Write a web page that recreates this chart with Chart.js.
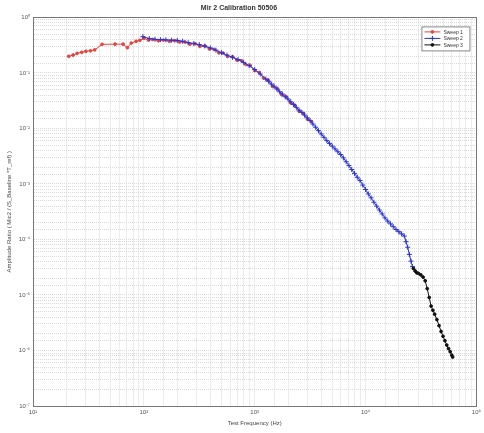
<!DOCTYPE html>
<html>
<head>
<meta charset="utf-8">
<script src="https://cdn.jsdelivr.net/npm/chart.js@4.4.0/dist/chart.umd.min.js"></script>
<style>
  html, body { margin: 0; padding: 0; background: #fff; }
</style>
</head>
<body>
<canvas id="chart" width="484" height="433"></canvas>
<script>
// sweep 1 - low band
const sweep1Freq = [21, 23, 25, 27.5, 30, 33, 36, 42, 55, 65, 71, 77, 85, 92, 100, 110, 120, 135, 150, 170, 190, 210, 235, 260, 290, 320, 355, 390, 430, 475, 520, 570, 630, 690, 760, 830, 910, 1000, 1100, 1200, 1320, 1450, 1600, 1750, 1920, 2100, 2300, 2520, 2760, 3000, 3250];
const sweep1Amp  = [0.199, 0.21, 0.225, 0.235, 0.245, 0.25, 0.26, 0.327, 0.33, 0.33, 0.285, 0.345, 0.37, 0.386, 0.42, 0.39, 0.40, 0.38, 0.39, 0.37, 0.38, 0.36, 0.36, 0.33, 0.335, 0.30, 0.305, 0.27, 0.265, 0.23, 0.228, 0.198, 0.195, 0.17, 0.166, 0.142, 0.136, 0.11, 0.102, 0.081, 0.074, 0.057, 0.052, 0.0405, 0.0375, 0.029, 0.0262, 0.0203, 0.0186, 0.0146, 0.0133];

// sweep 2 - mid band
const sweep2Freq = [98, 112, 126, 141, 158, 178, 200, 224, 251, 282, 316, 355, 398, 447, 501, 562, 631, 708, 794, 891, 1000, 1122, 1259, 1334, 1413, 1496, 1585, 1679, 1778, 1884, 1995, 2113, 2239, 2371, 2512, 2661, 2818, 2985, 3162, 3350, 3548, 3758, 3981, 4217, 4467, 4732, 5012, 5309, 5623, 5957, 6310, 6683, 7079, 7499, 7943, 8414, 8913, 9441, 10000, 10593, 11220, 11885, 12589, 13335, 14125, 14962, 15849, 16788, 17783, 18836, 19953, 21135, 22387, 23174, 23988, 24831, 25704, 26485];
const sweep2Amp  = [0.45, 0.417, 0.403, 0.398, 0.394, 0.389, 0.385, 0.372, 0.351, 0.339, 0.324, 0.305, 0.282, 0.257, 0.232, 0.209, 0.191, 0.174, 0.155, 0.135, 0.115, 0.0955, 0.0776, 0.0708, 0.0631, 0.0575, 0.0513, 0.0457, 0.0417, 0.0372, 0.0339, 0.0302, 0.0269, 0.024, 0.0214, 0.0195, 0.0174, 0.0155, 0.0138, 0.012, 0.0105, 0.00912, 0.00794, 0.00692, 0.00603, 0.00537, 0.00479, 0.00427, 0.0038, 0.00339, 0.00295, 0.00251, 0.00214, 0.00182, 0.00155, 0.00132, 0.00115, 0.000955, 0.000794, 0.000661, 0.000562, 0.000468, 0.000398, 0.000339, 0.000288, 0.000245, 0.000214, 0.000191, 0.00017, 0.000151, 0.000138, 0.000126, 0.000115, 0.0000912, 0.0000724, 0.0000537, 0.0000407, 0.0000324];

// sweep 3 - high band
const sweep3Freq = [27000, 28000, 29000, 30000, 31500, 33000, 34500, 36000, 37500, 39000, 40500, 42000, 44000, 46000, 48000, 50000, 52000, 54000, 56000, 58000, 60000, 61000];
const sweep3Amp  = [3.0e-5, 2.7e-5, 2.5e-5, 2.45e-5, 2.3e-5, 2.1e-5, 1.8e-5, 1.3e-5, 9e-6, 6.3e-6, 5.3e-6, 4.5e-6, 3.6e-6, 2.8e-6, 2.2e-6, 1.8e-6, 1.5e-6, 1.25e-6, 1.08e-6, 9.5e-7, 8.2e-7, 7.6e-7];

const seriesNames = ['Sweep 1', 'Sweep 2', 'Sweep 3'];
const xRange = [10, 100000];
const yRange = [1e-7, 1];

const SUP = { '0': '\u2070', '1': '\u00b9', '2': '\u00b2', '3': '\u00b3', '4': '\u2074', '5': '\u2075', '6': '\u2076', '7': '\u2077', '8': '\u2078', '9': '\u2079', '-': '\u207b' };
function decadeLabel(v) {
  const e = Math.log10(v);
  if (Math.abs(e - Math.round(e)) > 1e-6) return '';
  return '10' + String(Math.round(e)).split('').map(c => SUP[c]).join('');
}
const zip = (xs, ys) => xs.map((x, i) => ({ x, y: ys[i] }));

// box around the plot area
const frame = {
  id: 'frame',
  afterDraw(chart) {
    const { ctx, chartArea: a } = chart;
    ctx.save();
    ctx.strokeStyle = '#777';
    ctx.lineWidth = 1;
    ctx.strokeRect(Math.round(a.left) + 0.5, Math.round(a.top) + 0.5, Math.round(a.width), Math.round(a.height));
    ctx.restore();
  }
};

// legend drawn inside the top right corner
const insetLegend = {
  id: 'insetLegend',
  afterDraw(chart) {
    const { ctx, chartArea: a } = chart;
    const x0 = a.right - 55, y0 = a.top + 9, w = 48, h = 24;
    ctx.save();
    ctx.fillStyle = '#fff';
    ctx.fillRect(x0, y0, w, h);
    ctx.strokeStyle = '#888';
    ctx.lineWidth = 1;
    ctx.strokeRect(x0 + 0.5, y0 + 0.5, w, h);
    ctx.font = '5px "Liberation Sans", Arial, sans-serif';
    ctx.textBaseline = 'middle';
    chart.data.datasets.forEach((ds, i) => {
      const y = y0 + 5.5 + i * 6.5;
      ctx.strokeStyle = ds.borderColor;
      ctx.lineWidth = 1;
      ctx.beginPath();
      ctx.moveTo(x0 + 3, y);
      ctx.lineTo(x0 + 19, y);
      ctx.stroke();
      ctx.fillStyle = ds.pointBackgroundColor;
      Chart.helpers.drawPoint(ctx, { pointStyle: ds.pointStyle, radius: ds.pointRadius, rotation: 0, borderWidth: 1 }, x0 + 11, y);
      ctx.fillStyle = '#333';
      ctx.fillText(ds.label, x0 + 22, y + 0.5);
    });
    ctx.restore();
  }
};

const gridStyle = { color: '#d9d9d9', lineWidth: 1, drawTicks: false };
const tickFont = { family: '"Liberation Sans", Arial, sans-serif', size: 6 };

new Chart(document.getElementById('chart'), {
  type: 'line',
  data: {
    datasets: [
      // later sweeps are plotted over earlier ones
      { label: seriesNames[0], order: 3, data: zip(sweep1Freq, sweep1Amp), borderColor: '#e2463f', pointBackgroundColor: '#e2463f', pointBorderColor: '#e2463f', pointStyle: 'circle', pointRadius: 1.4, borderWidth: 1 },
      { label: seriesNames[1], order: 2, data: zip(sweep2Freq, sweep2Amp), borderColor: '#2a34d6', pointBackgroundColor: '#2a34d6', pointBorderColor: '#2a34d6', pointStyle: 'cross', pointRadius: 2.5, pointBorderWidth: 1, borderWidth: 1 },
      { label: seriesNames[2], order: 1, data: zip(sweep3Freq, sweep3Amp), borderColor: '#111', pointBackgroundColor: '#111', pointBorderColor: '#111', pointStyle: 'circle', pointRadius: 1.4, borderWidth: 1 }
    ]
  },
  options: {
    responsive: false,
    animation: false,
    layout: { padding: { left: 0, right: 6, top: 0, bottom: 0 } },
    plugins: {
      legend: { display: false },
      tooltip: { enabled: false },
      title: {
        display: true,
        text: 'Mir 2 Calibration 50506',
        color: '#333',
        font: { family: '"Liberation Sans", Arial, sans-serif', size: 7, weight: 'bold' },
        padding: { top: 4, bottom: 5 }
      }
    },
    scales: {
      x: {
        type: 'logarithmic',
        min: xRange[0], max: xRange[1],
        grid: gridStyle,
        border: { display: true, color: '#777', dash: [1, 1] },
        ticks: { autoSkip: false, maxRotation: 0, padding: 3, color: '#555', font: tickFont, callback: v => decadeLabel(v) },
        title: { display: true, text: 'Test Frequency (Hz)', color: '#444', font: tickFont, padding: { top: 0, bottom: 6 } },
        afterFit: s => { s.height = 27; }
      },
      y: {
        type: 'logarithmic',
        min: yRange[0], max: yRange[1],
        grid: gridStyle,
        border: { display: true, color: '#777', dash: [1, 1] },
        ticks: { autoSkip: false, padding: 3, color: '#555', font: tickFont, callback: v => decadeLabel(v) },
        title: { display: true, text: 'Amplitude Ratio ( Mic2 / (S_Baseline *T_ref) )', color: '#444', font: tickFont, padding: { top: 6, bottom: 0 } },
        afterFit: s => { s.width = 33; }
      }
    }
  },
  plugins: [frame, insetLegend]
});
</script>
</body>
</html>
